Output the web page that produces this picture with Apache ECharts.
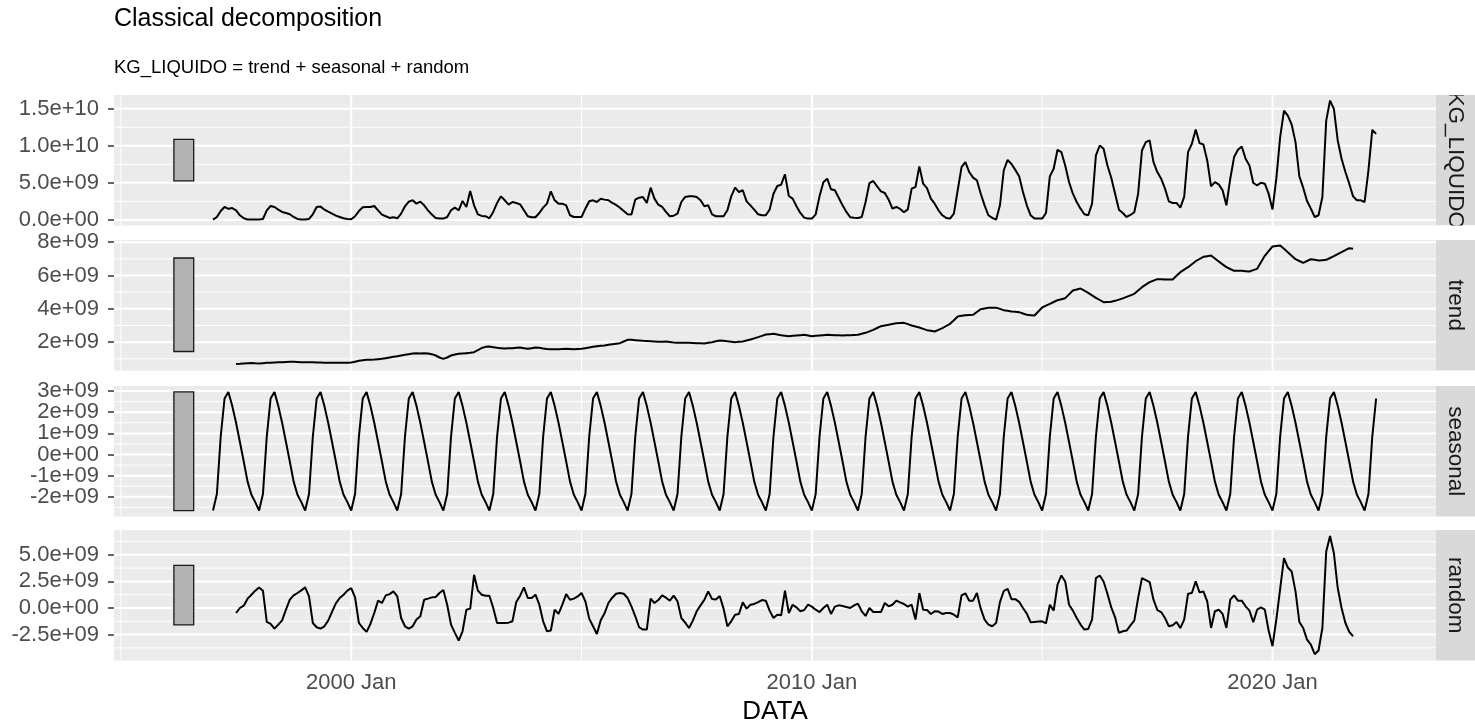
<!DOCTYPE html>
<html>
<head>
<meta charset="utf-8">
<script src="https://cdn.jsdelivr.net/npm/echarts@6/dist/echarts.min.js"></script>
<style>
  html, body { margin: 0; padding: 0; background: #ffffff; }
  #chart { width: 1475px; height: 724px; }
</style>
</head>
<body>
<div id="chart"></div>
<script>
// monthly series, first month Jan 1997, values in units of 1e9
var startYear = 1997;
var kgLiquido = [
  0.05, 0.4, 1.2, 1.75, 1.5, 1.6, 1.3, 0.63, 0.22, 0.05, 0.05, 0.05,
  0.05, 0.13, 1.3, 1.88, 1.75, 1.4, 1.08, 0.94, 0.76, 0.4, 0.13, 0.05,
  0.05, 0.13, 0.76, 1.75, 1.8, 1.4, 1.12, 0.85, 0.58, 0.4, 0.22, 0.13,
  0.09, 0.5, 1.2, 1.7, 1.75, 1.75, 1.88, 1.3, 0.72, 0.5, 0.27, 0.36,
  0.22, 0.85, 1.84, 2.47, 2.65, 2.2, 2.47, 1.97, 1.3, 0.72, 0.27, 0.18,
  0.18, 0.4, 1.3, 1.66, 1.3, 2.56, 1.75, 3.9, 1.97, 0.76, 0.54, 0.5,
  0.22, 1.08, 2.29, 3.18, 2.65, 2.06, 2.42, 2.29, 2.1, 1.3, 0.5, 0.36,
  0.36, 0.94, 1.66, 2.2, 3.86, 2.65, 2.2, 2.2, 1.97, 0.63, 0.4, 0.4,
  0.4, 1.52, 2.51, 2.65, 2.42, 2.87, 2.74, 2.65, 2.3, 2.02, 1.66, 1.21,
  0.76, 0.72, 2.74, 3.0, 3.1, 2.29, 4.35, 2.87, 2.06, 1.75, 1.08, 0.5,
  0.58, 0.85, 2.42, 3.1, 3.18, 3.18, 3.1, 2.65, 1.84, 1.97, 0.76, 0.5,
  0.5, 0.5, 1.3, 3.18, 4.35, 3.77, 4.0, 2.51, 1.97, 1.39, 0.76, 0.63,
  0.63, 1.39, 3.54, 4.57, 4.75, 6.14, 3.23, 2.87, 1.84, 0.94, 0.31, 0.18,
  0.18, 0.76, 3.18, 5.07, 5.56, 4.13, 4.0, 3.0, 1.97, 1.08, 0.36, 0.31,
  0.27, 0.4, 2.42, 4.98, 5.25, 4.53, 3.86, 3.63, 2.74, 1.52, 1.75, 1.48,
  1.03, 1.43, 4.22, 4.44, 7.22, 4.89, 4.3, 2.87, 2.2, 1.3, 0.63, 0.27,
  0.18, 0.85, 4.0, 7.13, 7.8, 6.46, 5.7, 5.34, 3.54, 1.97, 0.63, 0.27,
  0.04, 1.97, 6.7, 8.1, 7.55, 6.75, 5.9, 3.77, 1.97, 0.63, 0.18, 0.18,
  0.18, 0.94, 5.87, 6.9, 9.46, 9.15, 7.35, 5.11, 3.54, 2.42, 1.52, 0.76,
  0.63, 2.2, 8.7, 10.04, 9.6, 7.35, 5.7, 3.54, 1.39, 0.94, 0.4, 0.67,
  1.03, 3.54, 9.37, 10.49, 10.72, 7.8, 6.46, 5.56, 4.22, 2.51, 2.29, 2.29,
  1.66, 3.1, 9.15, 10.27, 12.2, 10.36, 10.18, 8.03, 4.53, 5.11, 4.8, 4.0,
  1.97, 5.56, 8.48, 9.46, 9.91, 8.25, 7.35, 4.98, 4.66, 5.02, 4.89, 3.54,
  1.39, 5.56, 11.17, 14.75, 14.08, 12.87, 10.49, 5.87, 4.35, 2.56, 1.52, 0.4,
  0.63, 3.1, 13.4, 16.1, 14.98, 10.72, 8.25, 6.46, 4.89, 3.18, 2.65, 2.65,
  2.42, 6.68, 12.15, 11.61
];

// trend and random start six months later (Jul 1997) and stop six months early
var componentOffset = 6;
var trendValues = [
  0.69, 0.70, 0.72, 0.74, 0.75, 0.73,
  0.72, 0.74, 0.76, 0.77, 0.78, 0.79, 0.80, 0.81, 0.82, 0.82, 0.81, 0.80,
  0.80, 0.80, 0.79, 0.78, 0.78, 0.77, 0.76, 0.76, 0.76, 0.76, 0.76, 0.77,
  0.78, 0.83, 0.88, 0.92, 0.94, 0.95, 0.96, 0.98, 1.00, 1.04, 1.08, 1.12,
  1.15, 1.20, 1.24, 1.28, 1.32, 1.33, 1.32, 1.33, 1.32, 1.28, 1.20, 1.08,
  1.00, 1.08, 1.20, 1.26, 1.30, 1.32, 1.34, 1.36, 1.40, 1.52, 1.65, 1.72,
  1.74, 1.70, 1.66, 1.64, 1.62, 1.63, 1.64, 1.66, 1.68, 1.64, 1.60, 1.64,
  1.68, 1.66, 1.62, 1.59, 1.57, 1.57, 1.58, 1.59, 1.60, 1.59, 1.58, 1.59,
  1.60, 1.64, 1.68, 1.72, 1.76, 1.78, 1.80, 1.84, 1.88, 1.91, 1.94, 2.04,
  2.14, 2.14, 2.12, 2.10, 2.08, 2.07, 2.06, 2.04, 2.02, 2.03, 2.04, 2.01,
  1.98, 1.97, 1.96, 1.96, 1.96, 1.95, 1.94, 1.93, 1.92, 1.96, 2.00, 2.05,
  2.10, 2.08, 2.06, 2.03, 2.00, 2.02, 2.04, 2.10, 2.16, 2.23, 2.30, 2.38,
  2.46, 2.48, 2.50, 2.46, 2.42, 2.39, 2.36, 2.38, 2.40, 2.42, 2.44, 2.40,
  2.36, 2.38, 2.40, 2.42, 2.44, 2.43, 2.42, 2.41, 2.40, 2.41, 2.42, 2.43,
  2.44, 2.50, 2.56, 2.65, 2.74, 2.85, 2.96, 3.00, 3.04, 3.09, 3.14, 3.15,
  3.16, 3.08, 3.00, 2.94, 2.88, 2.80, 2.72, 2.68, 2.64, 2.74, 2.84, 2.97,
  3.10, 3.32, 3.54, 3.58, 3.62, 3.63, 3.64, 3.81, 3.98, 4.02, 4.06, 4.07,
  4.07, 4.00, 3.92, 3.88, 3.84, 3.82, 3.80, 3.72, 3.64, 3.62, 3.60, 3.84,
  4.08, 4.19, 4.30, 4.41, 4.52, 4.58, 4.64, 4.87, 5.10, 5.16, 5.22, 5.09,
  4.96, 4.81, 4.66, 4.53, 4.40, 4.41, 4.42, 4.48, 4.55, 4.63, 4.72, 4.81,
  4.90, 5.10, 5.30, 5.45, 5.60, 5.69, 5.78, 5.77, 5.76, 5.76, 5.76, 5.98,
  6.20, 6.35, 6.50, 6.68, 6.86, 6.99, 7.12, 7.16, 7.20, 7.02, 6.84, 6.67,
  6.50, 6.39, 6.28, 6.28, 6.28, 6.26, 6.24, 6.32, 6.40, 6.79, 7.18, 7.46,
  7.74, 7.77, 7.80, 7.60, 7.40, 7.19, 6.98, 6.87, 6.76, 6.87, 6.98, 6.94,
  6.90, 6.92, 6.94, 7.05, 7.16, 7.28, 7.40, 7.52, 7.64, 7.60
];

// seasonal figure, Jan..Dec, repeated every year
var seasonalPattern = [-2.65, -1.87, 0.85, 2.65, 2.96, 2.3, 1.5, 0.59, -0.33, -1.28, -1.9, -2.25];

var randomValues = [
  -0.47, 0.0, 0.22, 0.88, 1.25, 1.63,
  1.94, 1.63, -1.31, -1.5, -1.94, -1.56, -1.16, -0.16, 0.78, 1.19, 1.41, 1.66,
  1.94, 1.09, -1.41, -1.81, -1.94, -1.72, -1.19, -0.37, 0.44, 0.94, 1.25, 1.63,
  1.88, 1.0, -1.41, -1.88, -2.25, -1.5, -0.47, 0.69, 0.47, 1.19, 1.31, 1.56,
  1.09, -0.94, -1.72, -1.94, -1.72, -1.09, -0.78, 0.78, 0.88, 1.0, 1.03, 1.41,
  1.69, 0.31, -1.56, -2.34, -3.06, -2.19, -0.16, -0.06, 3.13, 1.63, 1.25, 1.16,
  1.16, 0.0, -1.41, -1.41, -1.41, -1.38, -1.25, 0.56, 1.16, 1.94, 0.94, 0.94,
  1.25, 0.31, -1.25, -2.19, -2.12, -0.16, -0.56, 0.31, 1.31, 0.78, 0.88, 1.09,
  1.41, 0.63, -1.0, -1.72, -2.44, -1.15, -0.5, 0.47, 0.97, 1.34, 1.41, 1.34,
  0.94, 0.16, -0.78, -1.81, -2.03, -2.03, 0.88, 0.47, 0.75, 1.19, 0.97, 0.69,
  1.16, 0.63, -0.94, -1.38, -1.88, -1.19, -0.31, 0.25, 0.78, 1.56, 0.84, 0.81,
  1.13, -0.06, -1.72, -1.25, -0.63, -0.56, 0.53, -0.06, 0.31, 0.38, 0.56, 0.75,
  0.69, -0.25, -0.94, -0.63, -0.69, 1.63, -0.47, 0.31, 0.06, -0.31, -0.19, 0.31,
  0.13, -0.16, -0.38, 0.0, 0.31, -0.56, 0.13, 0.25, 0.19, 0.09, 0.0, 0.25,
  0.41, -0.31, -0.75, 0.0, -0.38, -0.38, -0.38, 0.47, 0.16, 0.31, 0.69, 0.53,
  0.38, 0.13, 0.31, -1.09, 1.41, -0.16, -0.19, -0.56, -0.31, -0.34, -0.56, -0.47,
  -0.47, -0.63, -0.88, 1.19, 1.38, 0.69, 0.69, 1.41, -0.06, -1.09, -1.56, -1.72,
  -1.41, 0.55, 1.6, 1.81, 0.83, 0.83, 0.58, 0.0, -0.53, -1.34, -1.31, -1.28,
  -1.25, -1.44, 0.31, -0.25, 2.19, 3.06, 2.5, 0.31, -0.25, -0.94, -1.56, -2.03,
  -1.97, -1.09, 2.81, 3.06, 2.5, 1.34, 0.06, -0.88, -2.34, -2.19, -2.12, -1.63,
  -1.19, 0.94, 2.81, 2.63, 2.44, 0.78, -0.19, -0.38, -0.94, -1.72, -1.63, -1.31,
  -1.88, -1.09, 1.34, 1.41, 2.5, 1.47, 1.56, 0.63, -1.88, -0.31, -0.16, -0.56,
  -1.88, 0.78, 1.19, 0.69, 0.69, 0.16, -0.25, -1.34, -0.16, 0.06, -0.16, -2.12,
  -3.59, -1.09, 1.81, 4.69, 3.81, 3.44, 1.56, -1.31, -1.88, -2.97, -3.44, -4.35,
  -4.0, -1.88, 5.31, 6.78, 5.16, 1.88, 0.0, -1.41, -2.25, -2.66
];

var panelNames = ['KG_LIQUIDO', 'trend', 'seasonal', 'random'];
var yTicks = [[0, 5, 10, 15], [2, 4, 6, 8], [-2, -1, 0, 1, 2, 3], [-2.5, 0, 2.5, 5]];
var yTickLabels = [
  ['0.0e+00', '5.0e+09', '1.0e+10', '1.5e+10'],
  ['2e+09', '4e+09', '6e+09', '8e+09'],
  ['-2e+09', '-1e+09', '0e+00', '1e+09', '2e+09', '3e+09'],
  ['-2.5e+09', '0.0e+00', '2.5e+09', '5.0e+09']
];
var yMinorTicks = [[2.5, 7.5, 12.5], [1, 3, 5, 7], [-2.5, -1.5, -0.5, 0.5, 1.5, 2.5], [-3.75, -1.25, 1.25, 3.75, 6.25]];
var xTicks = [2000, 2010, 2020];
var xTickLabels = ['2000 Jan', '2010 Jan', '2020 Jan'];
var xMinorTicks = [1995, 2005, 2015];

// layout
var yRanges = [[-0.75, 16.85], [0.3, 8.13], [-2.93, 3.24], [-4.94, 7.34]];
var xRange = [1994.85, 2023.55];
var barX = [1996.15, 1996.58];
var plotLeft = 114, plotRight = 1436;
var panelTops = [95, 240, 386, 530];
var panelHeight = 130.5;
var font = '"Liberation Sans", Arial, Helvetica, sans-serif';

function monthX(i) {
  return startYear + i / 12;
}

function toPoints(values, offset) {
  return values.map(function (v, i) { return [monthX(i + offset), v]; });
}

var seasonalValues = kgLiquido.map(function (v, i) { return seasonalPattern[i % 12]; });
var panelData = [
  toPoints(kgLiquido, 0),
  toPoints(trendValues, componentOffset),
  toPoints(seasonalValues, 0),
  toPoints(randomValues, componentOffset)
];
var panelValues = [kgLiquido, trendValues, seasonalValues, randomValues];
var barHalf = (Math.max.apply(null, seasonalPattern) - Math.min.apply(null, seasonalPattern)) / 2;

var grids = [], xAxes = [], yAxes = [], series = [], graphics = [];

function yLabelAxis(p, values, withTicks) {
  return {
    type: 'value', gridIndex: p, min: yRanges[p][0], max: yRanges[p][1],
    position: 'left',
    axisLine: { show: false },
    splitLine: { show: false },
    axisTick: withTicks
      ? { show: true, customValues: yTicks[p], length: 6, lineStyle: { color: '#333333', width: 1.5 } }
      : { show: false },
    axisLabel: {
      show: true, customValues: values, margin: 15,
      color: '#4D4D4D', fontSize: 22, fontFamily: font,
      showMinLabel: true, showMaxLabel: true,
      formatter: function (v) { return yTickLabels[p][yTicks[p].indexOf(v)]; }
    }
  };
}

panelTops.forEach(function (top, p) {
  grids.push({
    left: plotLeft, top: top, width: plotRight - plotLeft, height: panelHeight,
    show: true, backgroundColor: '#EBEBEB', borderWidth: 0
  });

  var bottom = p === 3;
  xAxes.push({
    type: 'value', gridIndex: p, min: xRange[0], max: xRange[1],
    axisLine: { show: false },
    splitLine: { show: false },
    axisTick: bottom ? { show: true, customValues: xTicks, length: 7, lineStyle: { color: '#333333', width: 1.5 } } : { show: false },
    axisLabel: bottom ? {
      show: true, customValues: xTicks, margin: 11,
      color: '#4D4D4D', fontSize: 22, fontFamily: font,
      showMinLabel: true, showMaxLabel: true,
      formatter: function (v) { return xTickLabels[xTicks.indexOf(v)]; }
    } : { show: false }
  });

  // labels split over two stacked axes so the closely spaced ones are not dropped
  var evenTicks = yTicks[p].filter(function (v, i) { return i % 2 === 0; });
  var oddTicks = yTicks[p].filter(function (v, i) { return i % 2 === 1; });
  yAxes.push(yLabelAxis(p, evenTicks, true));
  yAxes.push(yLabelAxis(p, oddTicks, false));
  var yIndex = 2 * p;

  // white grid lines (minor thin, major thick)
  var lines = [];
  yMinorTicks[p].forEach(function (v) { lines.push([v, 0, 0]); });
  yTicks[p].forEach(function (v) { lines.push([v, 0, 1]); });
  xMinorTicks.forEach(function (v) { lines.push([v, 1, 0]); });
  xTicks.forEach(function (v) { lines.push([v, 1, 1]); });
  series.push({
    type: 'custom', xAxisIndex: p, yAxisIndex: yIndex, z: 1, silent: true, animation: false,
    data: lines,
    renderItem: function (params, api) {
      var v = api.value(0);
      var a, b;
      if (api.value(1) === 1) {
        a = api.coord([v, yRanges[p][0]]);
        b = api.coord([v, yRanges[p][1]]);
      } else {
        a = api.coord([xRange[0], v]);
        b = api.coord([xRange[1], v]);
      }
      return {
        type: 'line',
        shape: { x1: a[0], y1: a[1], x2: b[0], y2: b[1] },
        style: { stroke: '#FFFFFF', lineWidth: api.value(2) === 1 ? 2 : 1 }
      };
    }
  });

  // range bar: same length (seasonal range) in each panel, centred on the panel's data
  var vals = panelValues[p];
  var centre = (Math.max.apply(null, vals) + Math.min.apply(null, vals)) / 2;
  series.push({
    type: 'custom', xAxisIndex: p, yAxisIndex: yIndex, z: 2, silent: true, animation: false,
    data: [[barX[0], barX[1], centre - barHalf, centre + barHalf]],
    encode: { x: [0, 1], y: [2, 3] },
    renderItem: function (params, api) {
      var a = api.coord([api.value(0), api.value(3)]);
      var b = api.coord([api.value(1), api.value(2)]);
      return {
        type: 'rect',
        shape: { x: a[0], y: a[1], width: b[0] - a[0], height: b[1] - a[1] },
        style: { fill: '#B3B3B3', stroke: '#1A1A1A', lineWidth: 1.3 }
      };
    }
  });

  series.push({
    name: panelNames[p], type: 'line', xAxisIndex: p, yAxisIndex: yIndex, z: 3,
    data: panelData[p], showSymbol: false, symbol: 'none', animation: false,
    lineStyle: { color: '#000000', width: 2 }
  });

  // facet strip on the right
  graphics.push({
    type: 'rect', z: 10, silent: true,
    shape: { x: plotRight, y: top, width: 1475 - plotRight, height: panelHeight },
    style: { fill: '#D9D9D9' }
  });
  graphics.push({
    type: 'text', z: 11, silent: true,
    x: 1455.5, y: top + panelHeight / 2, rotation: -Math.PI / 2,
    style: {
      text: panelNames[p], fill: '#1A1A1A', font: '22.5px ' + font,
      align: 'center', verticalAlign: 'middle',
      textAlign: 'center', textVerticalAlign: 'middle'
    }
  });
});

// white masks so the long strip label is cut at the strip edges
graphics.push({ type: 'rect', z: 12, silent: true, shape: { x: plotRight, y: 60, width: 40, height: panelTops[0] - 60 }, style: { fill: '#FFFFFF' } });
graphics.push({ type: 'rect', z: 12, silent: true, shape: { x: plotRight, y: panelTops[0] + panelHeight, width: 40, height: panelTops[1] - panelTops[0] - panelHeight }, style: { fill: '#FFFFFF' } });

graphics.push({
  type: 'text', z: 11, silent: true,
  x: (plotLeft + plotRight) / 2, y: 712,
  style: {
    text: 'DATA', fill: '#000000', font: '26px ' + font,
    align: 'center', verticalAlign: 'middle',
    textAlign: 'center', textVerticalAlign: 'middle'
  }
});

var myChart = echarts.init(document.getElementById('chart'), null, { renderer: 'canvas' });
var option = {
  backgroundColor: '#FFFFFF',
  animation: false,
  title: [
    {
      text: 'Classical decomposition', left: plotLeft, top: 7, padding: 0,
      textStyle: { color: '#000000', fontSize: 25, fontWeight: 'normal', fontFamily: font }
    },
    {
      text: 'KG_LIQUIDO = trend + seasonal + random', left: plotLeft, top: 58, padding: 0,
      textStyle: { color: '#000000', fontSize: 18.5, fontWeight: 'normal', fontFamily: font }
    }
  ],
  grid: grids,
  xAxis: xAxes,
  yAxis: yAxes,
  series: series,
  graphic: graphics
};
option && myChart.setOption(option);
</script>
</body>
</html>
